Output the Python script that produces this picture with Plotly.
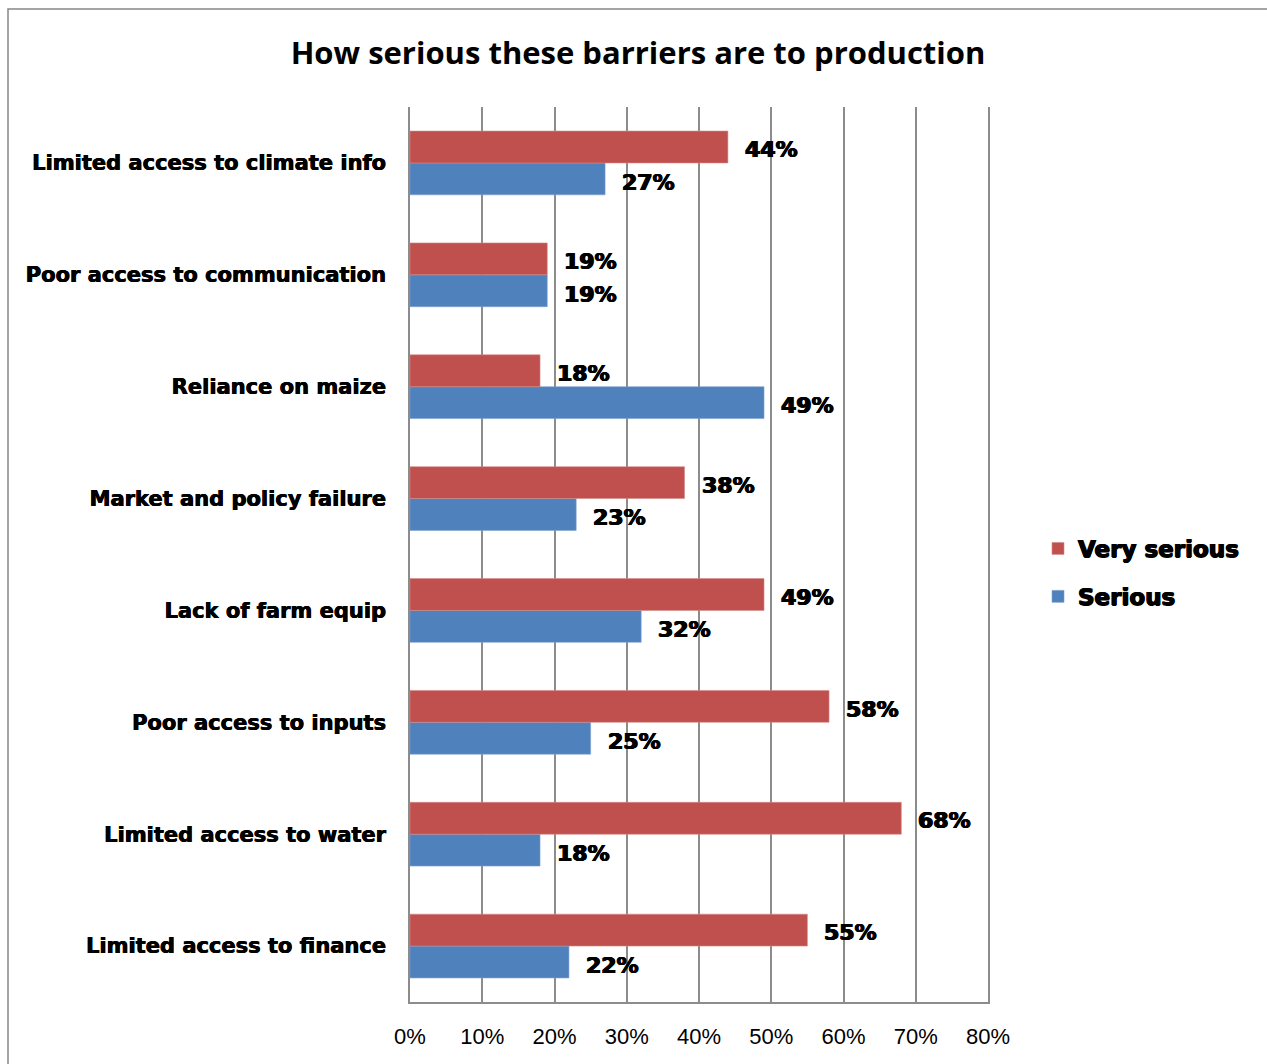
import plotly.graph_objects as go

# Barrier categories, listed bottom to top
categories = [
    "Limited access to finance",
    "Limited access to water",
    "Poor access to inputs",
    "Lack of farm equip",
    "Market and policy failure",
    "Reliance on maize",
    "Poor access to communication",
    "Limited access to climate info",
]
very_serious = [55, 68, 58, 49, 38, 18, 19, 44]
serious = [22, 18, 25, 32, 23, 49, 19, 27]
x_ticks = [0, 10, 20, 30, 40, 50, 60, 70, 80]

RED = "#C0504D"
BLUE = "#4F81BD"
GRID = "#8C8C8C"
HEAVY = "0.7px 0 0 #000, -0.7px 0 0 #000, 0 0.4px 0 #000"
LABEL_FONT = dict(family="DejaVu Sans", size=22, color="black", weight="bold", shadow=HEAVY)

W, H = 1267, 1064
L, R, T, B = 410, 988, 107, 1002

fig = go.Figure()
fig.add_trace(go.Bar(
    y=categories, x=serious, orientation="h", name="Serious",
    marker=dict(color=BLUE, line=dict(color="#7FA2D0", width=0.6)),
    legendgroup="s", legendrank=2,
))
fig.add_trace(go.Bar(
    y=categories, x=very_serious, orientation="h", name="Very serious",
    marker=dict(color=RED, line=dict(color="#D48A88", width=0.6)),
    legendgroup="v", legendrank=1,
))

# Value labels next to each bar end
annotations = []
n = len(categories)
for i, cat in enumerate(categories):
    for val, off in ((very_serious[i], 0.145), (serious[i], -0.145)):
        annotations.append(dict(
            x=val, y=i + off, xref="x", yref="y", text=f"{val}%",
            showarrow=False, xanchor="left", yanchor="middle", xshift=15, yshift=-3,
            font=LABEL_FONT,
        ))

pw, ph = R - L, B - T
def px_x(p):
    return (p - L) / pw
def px_y(p):
    return (B - p) / ph

fig.update_layout(
    width=W, height=H,
    margin=dict(l=L, r=W - R, t=T, b=H - B, pad=0),
    paper_bgcolor="white", plot_bgcolor="white",
    barmode="group", bargap=0.43, bargroupgap=0,
    title=dict(
        text="How serious these barriers are to production",
        font=dict(family="Open Sans", size=31, color="black", weight="bold"),
        x=(638) / W, xanchor="center", y=1 - 53 / H, yanchor="middle",
    ),
    xaxis=dict(
        range=[0, 80], tickvals=x_ticks, ticktext=[f"{v}%" for v in x_ticks],
        showgrid=True, gridcolor=GRID, gridwidth=1.5,
        showline=True, linecolor=GRID, linewidth=1.5,
        ticks="", ticklabelstandoff=14,
        tickfont=dict(family="Liberation Sans", size=22, color="black"),
        zeroline=False, fixedrange=True,
    ),
    yaxis=dict(
        type="category", categoryorder="array", categoryarray=categories,
        range=[-0.5, n - 0.5],
        showgrid=False, showline=True, linecolor=GRID, linewidth=1.5, mirror=True,
        ticks="", ticklabelstandoff=18,
        tickfont=dict(family="DejaVu Sans", size=21, color="black", weight="bold",
                      shadow="0.4px 0 0 #000, -0.4px 0 0 #000"),
        fixedrange=True,
    ),
    legend=dict(
        x=px_x(1038), y=px_y(527), xanchor="left", yanchor="top",
        traceorder="grouped", tracegroupgap=15,
        font=dict(family="DejaVu Sans", size=23, color="black", weight="bold", shadow=HEAVY),
        itemwidth=30, bgcolor="rgba(0,0,0,0)",
    ),
    annotations=annotations,
    shapes=[dict(
        type="rect", xref="paper", yref="paper",
        x0=px_x(8), x1=px_x(1275), y0=px_y(1075), y1=px_y(9),
        line=dict(color="#868686", width=1.5), fillcolor="rgba(0,0,0,0)", layer="below",
    )],
)

fig.write_html("out.html")
